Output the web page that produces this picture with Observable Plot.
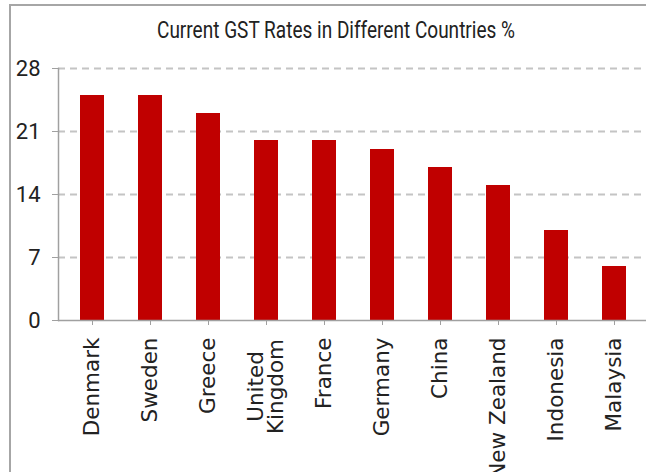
<!DOCTYPE html>
<html>
<head>
<meta charset="utf-8">
<script src="https://cdn.jsdelivr.net/npm/d3@7"></script>
<script src="https://cdn.jsdelivr.net/npm/@observablehq/plot@0.6"></script>
<style>
  html, body { margin: 0; padding: 0; background: #fff; }
  #wrap { position: relative; width: 646px; height: 472px; overflow: hidden; background: #fff; }
  #border { position: absolute; left: 9px; top: 4px; width: 700px; height: 520px; border-left: 2px solid #a6a6a6; border-top: 2px solid #a6a6a6; }
  #title { position: absolute; left: 336px; top: 17px; white-space: nowrap; font-family: Roboto, "Liberation Sans", sans-serif; font-size: 23px; color: #222; transform-origin: 0 0; }
  #chart { position: absolute; left: 0; top: 0; }
</style>
</head>
<body>
<div id="wrap">
  <div id="border"></div>
  <div id="title">Current GST Rates in Different Countries %</div>
  <div id="chart"></div>
</div>
<script>
const countries = ["Denmark", "Sweden", "Greece", "United\nKingdom", "France", "Germany", "China", "New Zealand", "Indonesia", "Malaysia"];
const rates = [25, 25, 23, 20, 20, 19, 17, 15, 10, 6];
const yTicks = [0, 7, 14, 21, 28];
const twoLine = countries.filter(c => c.includes("\n"));
const oneLine = countries.filter(c => !c.includes("\n"));

const data = countries.map((c, i) => ({country: c, rate: rates[i]}));

const labelFont = "DejaVu Sans, Verdana, sans-serif";
const chart = Plot.plot({
  width: 646,
  height: 472,
  marginTop: 68,
  marginBottom: 152,
  marginLeft: 58,
  marginRight: 0,
  style: {background: "transparent", overflow: "visible"},
  x: {domain: countries, range: [58, 648.6], paddingInner: 0.593, paddingOuter: 0.305, axis: null},
  y: {domain: [0, 28], axis: null},
  marks: [
    Plot.gridY(yTicks.filter(d => d > 0), {stroke: "#c4c4c4", strokeOpacity: 1, strokeDasharray: "7,5", strokeWidth: 1.8}),
    Plot.barY(data, {x: "country", y: "rate", fill: "#C00000"}),
    Plot.ruleY([0], {stroke: "#a0a0a0", strokeWidth: 1.5}),
    Plot.frame({anchor: "left", stroke: "#a0a0a0", strokeWidth: 1.5}),
    Plot.axisY({ticks: yTicks, tickSize: 6, tickPadding: 12, stroke: "#a0a0a0", fill: "#222", fontSize: 22, fontFamily: "Roboto, sans-serif", label: null}),
    Plot.axisX({ticks: oneLine, tickRotate: -90, tickSize: 5, tickPadding: 12, stroke: "#a0a0a0", fill: "#222", fontSize: 21.5, fontFamily: labelFont, label: null}),
    Plot.axisX({ticks: twoLine, tickRotate: -90, tickSize: 5, tickPadding: 61, textAnchor: "middle", stroke: "#a0a0a0", fill: "#222", fontSize: 21.5, fontFamily: labelFont, label: null, lineHeight: 0.95})
  ]
});
document.getElementById("chart").appendChild(chart);

// squeeze the title to the condensed width seen in the reference
const title = document.getElementById("title");
const w = title.getBoundingClientRect().width;
const s = 358 / w;
title.style.transform = `translateX(${-179}px) scaleX(${s})`;
</script>
</body>
</html>
